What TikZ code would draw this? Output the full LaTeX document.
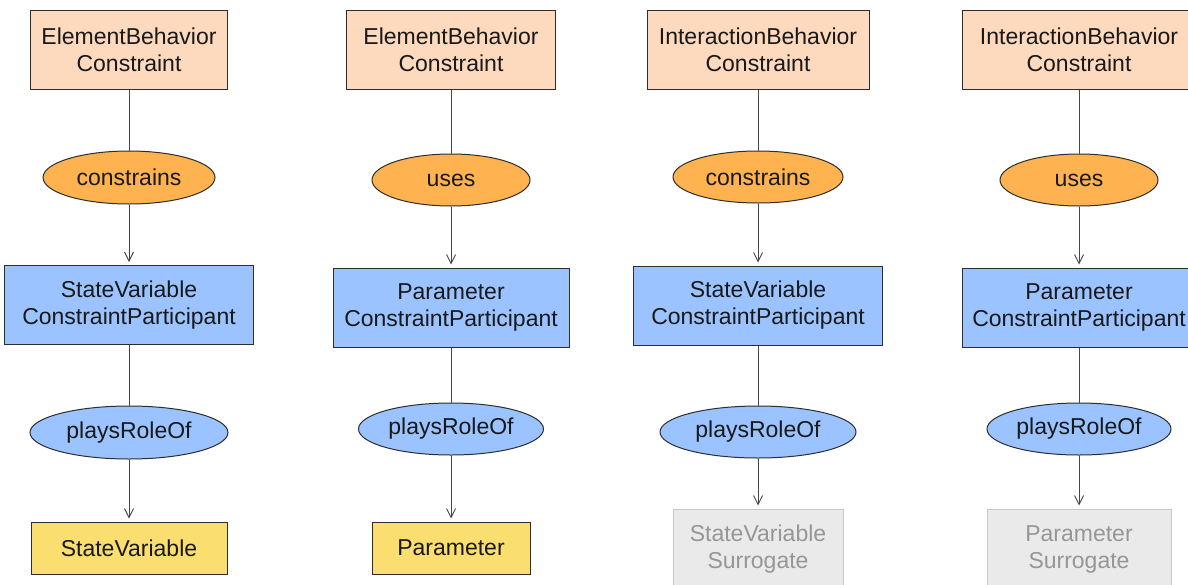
\documentclass[tikz,border=0pt]{standalone}
\usepackage{fontspec}
\setmainfont{Liberation Sans}
\usetikzlibrary{shapes.geometric,arrows.meta}

\definecolor{peach}{RGB}{253,217,190}
\definecolor{orangefill}{RGB}{255,178,80}
\definecolor{bluefill}{RGB}{155,195,255}
\definecolor{yellowfill}{RGB}{250,222,112}
\definecolor{grayfill}{RGB}{234,234,234}
\definecolor{grayedge}{RGB}{200,200,200}
\definecolor{graytext}{RGB}{150,150,150}
\definecolor{edgecol}{RGB}{45,45,45}
\definecolor{linecol}{RGB}{70,70,70}
\definecolor{textcol}{RGB}{25,25,25}

\tikzset{
  base/.style={draw=edgecol, line width=1pt, inner sep=0pt, align=center,
    text=textcol, font=\fontsize{23}{27}\selectfont},
  constraintbox/.style={base, rectangle, fill=peach},
  participantbox/.style={base, rectangle, fill=bluefill},
  targetbox/.style={base, rectangle, fill=yellowfill},
  surrogatebox/.style={base, rectangle, fill=grayfill, draw=grayedge, text=graytext},
  relation/.style={base, ellipse, fill=orangefill},
  rolerel/.style={base, ellipse, fill=bluefill},
  link/.style={draw=linecol, line width=0.9pt},
  arrowlink/.style={link, -{Straight Barb[length=9pt,width=9pt]}, shorten >=3pt},
}

\begin{document}
\begin{tikzpicture}[x=1pt,y=-1pt]
\useasboundingbox (0,0) rectangle (1188,584);
\clip (0,0) rectangle (1188,584);
\fill[white] (0,0) rectangle (1188,584);

% column 1: element behavior constraint on a state variable
\node[constraintbox, minimum width=197, minimum height=79] (t1) at (129,49.5) {ElementBehavior\\Constraint};
\node[relation, minimum width=172, minimum height=53] (e1) at (129,177.5) {constrains};
\node[participantbox, minimum width=249, minimum height=79] (m1) at (129,305) {StateVariable\\ConstraintParticipant};
\node[rolerel, minimum width=198, minimum height=53] (p1) at (129,432.5) {playsRoleOf};
\node[targetbox, minimum width=196, minimum height=52] (b1) at (129,548) {StateVariable};

% column 2: element behavior constraint using a parameter
\node[constraintbox, minimum width=209, minimum height=79] (t2) at (451,49.5) {ElementBehavior\\Constraint};
\node[relation, minimum width=158, minimum height=52] (e2) at (451,180) {uses};
\node[participantbox, minimum width=236, minimum height=79] (m2) at (451,307.5) {Parameter\\ConstraintParticipant};
\node[rolerel, minimum width=185, minimum height=52] (p2) at (451,429) {playsRoleOf};
\node[targetbox, minimum width=158, minimum height=52] (b2) at (451,548) {Parameter};

% column 3: interaction behavior constraint on a state variable surrogate
\node[constraintbox, minimum width=222, minimum height=79] (t3) at (758,49.5) {InteractionBehavior\\Constraint};
\node[relation, minimum width=170, minimum height=52] (e3) at (758,177) {constrains};
\node[participantbox, minimum width=249, minimum height=79] (m3) at (758,305.5) {StateVariable\\ConstraintParticipant};
\node[rolerel, minimum width=196, minimum height=52] (p3) at (758,432) {playsRoleOf};
\node[surrogatebox, minimum width=170, minimum height=80] (b3) at (758,549) {StateVariable\\Surrogate};

% column 4: interaction behavior constraint using a parameter surrogate
\node[constraintbox, minimum width=234, minimum height=79] (t4) at (1079,49.5) {InteractionBehavior\\Constraint};
\node[relation, minimum width=158, minimum height=52] (e4) at (1079,180) {uses};
\node[participantbox, minimum width=234, minimum height=79] (m4) at (1079,307.5) {Parameter\\ConstraintParticipant};
\node[rolerel, minimum width=184, minimum height=52] (p4) at (1079,429) {playsRoleOf};
\node[surrogatebox, minimum width=184, minimum height=80] (b4) at (1079,549) {Parameter\\Surrogate};

% connectors
\foreach \c in {1,2,3,4}{
  \draw[link] (t\c) -- (e\c);
  \draw[arrowlink] (e\c) -- (m\c);
  \draw[link] (m\c) -- (p\c);
  \draw[arrowlink] (p\c) -- (b\c);
}
\end{tikzpicture}
\end{document}
